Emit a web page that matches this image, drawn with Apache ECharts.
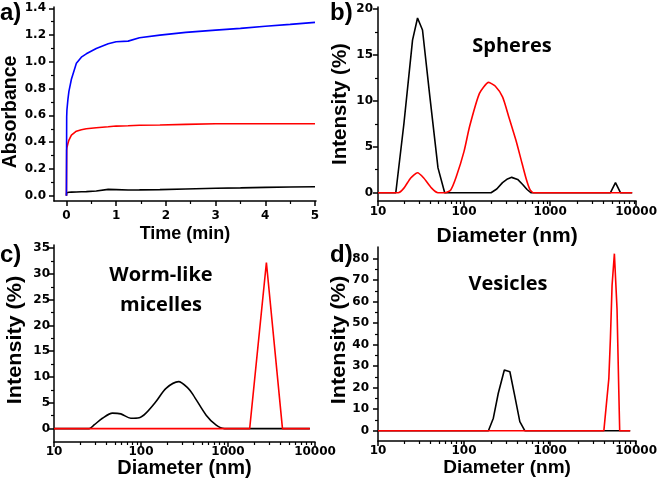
<!DOCTYPE html>
<html>
<head>
<meta charset="utf-8">
<script src="https://cdn.jsdelivr.net/npm/echarts@6/dist/echarts.min.js"></script>
<style>
html, body { margin: 0; padding: 0; background: #fff; }
#chart { width: 660px; height: 484px; }
</style>
</head>
<body>
<div id="chart"></div>
<script>
// a) absorbance vs time
var timeA  = [0, 0.005, 0.01, 0.03, 0.05, 0.1, 0.2, 0.3, 0.4, 0.6, 0.84, 1.0, 1.24, 1.47, 1.88, 2.4, 3.0, 3.5, 4.0, 4.5, 5.0];
var blueA  = [0, 0.59, 0.64, 0.72, 0.78, 0.87, 0.99, 1.035, 1.06, 1.1, 1.135, 1.15, 1.155, 1.18, 1.2, 1.22, 1.237, 1.25, 1.266, 1.28, 1.295];
var redA   = [0, 0.34, 0.36, 0.39, 0.415, 0.453, 0.482, 0.493, 0.5, 0.508, 0.515, 0.52, 0.522, 0.526, 0.528, 0.533, 0.537, 0.537, 0.537, 0.537, 0.537];
var blackA = [0, 0.022, 0.023, 0.024, 0.025, 0.026, 0.027, 0.029, 0.03, 0.035, 0.047, 0.045, 0.042, 0.043, 0.045, 0.05, 0.055, 0.058, 0.062, 0.065, 0.067];

// b) spheres
var diamBblack = [10, 16.1, 20, 25.2, 28.8, 32.9, 40, 49.8, 59.6, 206, 240, 280, 320, 358, 420, 480, 540, 598, 5035, 5754, 6577, 9000];
var intBblack  = [0, 0, 7.5, 16.6, 19, 17.7, 10.5, 2.7, 0, 0, 0.4, 1.1, 1.5, 1.67, 1.45, 0.9, 0.35, 0, 0, 1.1, 0, 0];
var diamBred = [10, 17.2, 20, 24, 28.8, 34, 42, 49.8, 60, 70, 81, 100, 116, 151, 193, 230, 281, 330, 401, 460, 524, 580, 640, 9000];
var intBred  = [0, 0, 0.5, 1.6, 2.17, 1.6, 0.5, 0, 0, 0.3, 1.7, 4.5, 7.2, 10.8, 12, 11.6, 10.4, 8.3, 5.7, 3.6, 1.6, 0.4, 0, 0];

// c) worm-like micelles
var diamCblack = [10, 25.4, 28.9, 36, 47, 58.6, 76.4, 95.3, 114, 148, 194, 270, 349, 399, 561, 732, 912, 8730];
var intCblack  = [0, 0, 0.7, 2.0, 3.0, 2.85, 2.0, 2.1, 3.0, 5.2, 7.8, 9.1, 7.8, 6.5, 2.6, 0.66, 0, 0];
var diamCred = [10, 1775, 2763, 4227, 8730];
var intCred  = [0, 0, 32.2, 0, 0];

// d) vesicles
var diamDblack = [10, 192, 219, 250, 294, 341, 390, 445, 508, 8534];
var intDblack  = [0, 0, 5.8, 17.4, 28.2, 27.4, 15.8, 4.2, 0, 0];
var diamDred = [10, 4217, 4817, 5024, 5254, 5589, 5998, 6281, 6443, 8534];
var intDred  = [0, 0, 24.2, 42.8, 67.6, 82.3, 56.7, 19.5, 0, 0];

// tick values
var xTicksA = [0, 1, 2, 3, 4, 5];
var xMinorA = [0.5, 1.5, 2.5, 3.5, 4.5];
var yTicksA = [0, 0.2, 0.4, 0.6, 0.8, 1.0, 1.2, 1.4];
var yMinorA = [0.1, 0.3, 0.5, 0.7, 0.9, 1.1, 1.3];
var logTicks = [10, 100, 1000, 10000];
var logMinor = [20, 30, 40, 50, 60, 70, 80, 90, 200, 300, 400, 500, 600, 700, 800, 900, 2000, 3000, 4000, 5000, 6000, 7000, 8000, 9000];
var yTicksB = [0, 5, 10, 15, 20];
var yMinorB = [2.5, 7.5, 12.5, 17.5];
var yTicksC = [0, 5, 10, 15, 20, 25, 30, 35];
var yMinorC = [2.5, 7.5, 12.5, 17.5, 22.5, 27.5, 32.5];
var yTicksD = [0, 10, 20, 30, 40, 50, 60, 70, 80];
var yMinorD = [5, 15, 25, 35, 45, 55, 65, 75];

function zip(xs, ys) {
  return xs.map(function (x, i) { return [x, ys[i]]; });
}

var labelFont = { color: '#000', fontFamily: 'DejaVu Sans', fontWeight: 'bold', fontSize: 12 };

// panel boxes; minor ticks live on a twin grid with the same box
var boxes = [
  { left: 54, top: 7, width: 262, height: 194 },
  { left: 378, top: 7, width: 260, height: 194 },
  { left: 54, top: 245, width: 261, height: 197 },
  { left: 378, top: 247, width: 261, height: 194 }
];

function majorAxis(dim, grid, type, min, max, ticks, fmt, margin, name, nameGap, nameSize) {
  var ax = {
    type: type, gridIndex: grid, position: dim === 'x' ? 'bottom' : 'left', min: min, max: max,
    axisLine: { show: true, onZero: false, lineStyle: { color: '#000', width: 1.5 } },
    axisTick: { show: true, customValues: ticks, length: 5, lineStyle: { color: '#000', width: 1.5 } },
    axisLabel: Object.assign({ customValues: ticks, margin: margin, formatter: fmt }, labelFont),
    splitLine: { show: false }
  };
  if (name) {
    ax.name = name;
    ax.nameLocation = 'middle';
    ax.nameGap = nameGap;
    ax.nameTextStyle = { color: '#000', fontFamily: 'Liberation Sans', fontWeight: 'bold', fontSize: nameSize };
  }
  if (type === 'log') ax.logBase = 10;
  return ax;
}

function minorAxis(dim, grid, type, min, max, minor) {
  var ax = {
    type: type, gridIndex: grid, position: dim === 'x' ? 'bottom' : 'left', min: min, max: max,
    axisLine: { show: false, onZero: false },
    axisTick: { show: true, customValues: minor, length: 3, lineStyle: { color: '#000', width: 1.2 } },
    axisLabel: { show: false },
    splitLine: { show: false }
  };
  if (type === 'log') ax.logBase = 10;
  return ax;
}

var fmt1 = function (v) { return v.toFixed(1); };
var fmt0 = function (v) { return String(Math.round(v)); };

var xAxes = [
  majorAxis('x', 0, 'value', -0.25, 5.02, xTicksA, fmt0, 9, 'Time (min)', 24, 18),
  majorAxis('x', 1, 'log', 10, 10000, logTicks, fmt0, 5, 'Diameter (nm)', 25, 21),
  majorAxis('x', 2, 'log', 10, 10000, logTicks, fmt0, 4, 'Diameter (nm)', 13, 20),
  majorAxis('x', 3, 'log', 10, 10000, logTicks, fmt0, 4, 'Diameter (nm)', 13, 19),
  minorAxis('x', 4, 'value', -0.25, 5.02, xMinorA),
  minorAxis('x', 5, 'log', 10, 10000, logMinor),
  minorAxis('x', 6, 'log', 10, 10000, logMinor),
  minorAxis('x', 7, 'log', 10, 10000, logMinor)
];
var yAxes = [
  majorAxis('y', 0, 'value', -0.04, 1.41, yTicksA, fmt1, 8),
  majorAxis('y', 1, 'value', -0.9, 20.2, yTicksB, fmt0, 5),
  majorAxis('y', 2, 'value', -2.6, 35.6, yTicksC, fmt0, 4),
  majorAxis('y', 3, 'value', -4.8, 85.4, yTicksD, fmt0, 9),
  minorAxis('y', 4, 'value', -0.04, 1.41, yMinorA),
  minorAxis('y', 5, 'value', -0.9, 20.2, yMinorB),
  minorAxis('y', 6, 'value', -2.6, 35.6, yMinorC),
  minorAxis('y', 7, 'value', -4.8, 85.4, yMinorD)
];

function line(grid, data, color, smooth) {
  return {
    type: 'line', xAxisIndex: grid, yAxisIndex: grid, data: data,
    showSymbol: false, symbol: 'none', smooth: smooth || false,
    lineStyle: { color: color, width: 1.6 }, emphasis: { disabled: true }
  };
}

var panelFont = 'bold 24px "Liberation Sans"';
var noteFont = 'bold 20px "Open Sans"';

// rotated y-axis titles
function yTitle(text, x, y, size, stretch) {
  return {
    type: 'text', x: x, y: y, rotation: Math.PI / 2, scaleX: stretch, scaleY: 1,
    style: { text: text, font: 'bold ' + size + 'px "Liberation Sans"', fill: '#000', textAlign: 'center', textVerticalAlign: 'middle' }
  };
}

var chart = echarts.init(document.getElementById('chart'));
chart.setOption({
  animation: false,
  backgroundColor: '#fff',
  grid: boxes.concat(boxes),
  xAxis: xAxes,
  yAxis: yAxes,
  series: [
    line(0, zip(timeA, blackA), '#000'),
    line(0, zip(timeA, redA), '#ff0000'),
    line(0, zip(timeA, blueA), '#0000ff'),
    line(1, zip(diamBblack, intBblack), '#000'),
    line(1, zip(diamBred, intBred), '#ff0000', 0.2),
    line(2, zip(diamCblack, intCblack), '#000', 0.3),
    line(2, zip(diamCred, intCred), '#ff0000'),
    line(3, zip(diamDblack, intDblack), '#000'),
    line(3, zip(diamDred, intDred), '#ff0000')
  ],
  graphic: [
    { type: 'text', x: 0, y: 1, style: { text: 'a)', font: panelFont, fill: '#000' } },
    { type: 'text', x: 330, y: 1, style: { text: 'b)', font: panelFont, fill: '#000' } },
    { type: 'text', x: 0, y: 243, style: { text: 'c)', font: panelFont, fill: '#000' } },
    { type: 'text', x: 330, y: 243, style: { text: 'd)', font: panelFont, fill: '#000' } },
    yTitle('Absorbance', 11, 112, 19.5, 1),
    yTitle('Intensity (%)', 340, 104, 20.5, 1),
    yTitle('Intensity (%)', 15, 340, 20, 1.08),
    yTitle('Intensity (%)', 339, 340, 20, 1.08),
    { type: 'text', x: 512, y: 46, style: { text: 'Spheres', font: noteFont, fill: '#000', textAlign: 'center', textVerticalAlign: 'middle' } },
    { type: 'text', x: 161, y: 290, style: { text: 'Worm-like\nmicelles', font: noteFont, lineHeight: 30, fill: '#000', textAlign: 'center', textVerticalAlign: 'middle' } },
    { type: 'text', x: 508, y: 284, style: { text: 'Vesicles', font: noteFont, fill: '#000', textAlign: 'center', textVerticalAlign: 'middle' } }
  ]
});
</script>
</body>
</html>
